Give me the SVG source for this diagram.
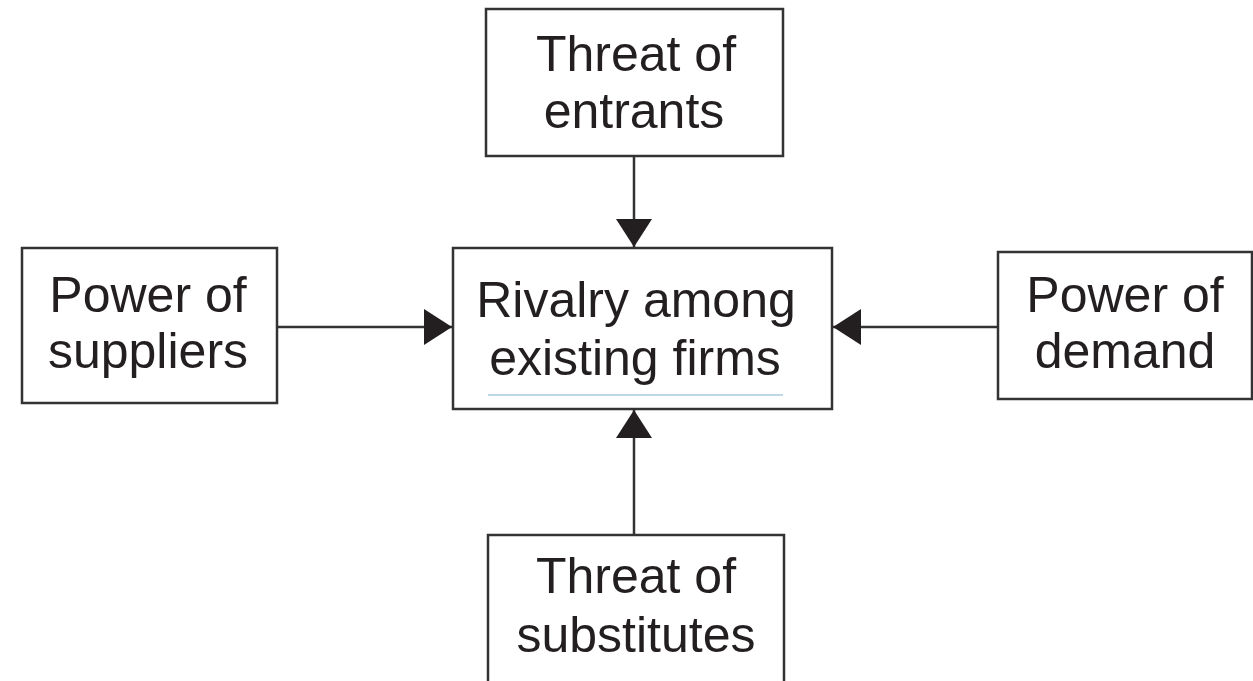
<svg xmlns="http://www.w3.org/2000/svg" width="1253" height="681" viewBox="0 0 1253 681">
<style>
.box{fill:#fff;stroke:#333;stroke-width:2.5}
.lbl{font-family:"Liberation Sans",Arial,sans-serif;font-size:50px;fill:#231f20;text-anchor:middle}
.con{stroke:#333;stroke-width:2.5;fill:none;marker-end:url(#ah)}
</style>
<defs>
<marker id="ah" markerUnits="userSpaceOnUse" markerWidth="36" markerHeight="36" viewBox="0 0 28 36" refX="28" refY="18" orient="auto">
<path d="M0,0 L28,18 L0,36 Z" fill="#231f20"/>
</marker>
</defs>
<rect width="1253" height="681" fill="#fff"/>
<g id="connectors">
<line class="con" x1="634" y1="156" x2="634" y2="247"/>
<line class="con" x1="277" y1="327" x2="452" y2="327"/>
<line class="con" x1="998" y1="327" x2="833" y2="327"/>
<line class="con" x1="634" y1="535" x2="634" y2="410"/>
</g>
<g id="rivalry">
<rect class="box" x="453" y="248" width="379" height="161"/>
<line x1="488" y1="395" x2="783" y2="395" stroke="#a9cbe2" stroke-width="1.5"/>
<text class="lbl" x="636" y="317">Rivalry among</text>
<text class="lbl" x="635" y="375">existing firms</text>
</g>
<g id="entrants">
<rect class="box" x="486" y="9" width="297" height="147"/>
<text class="lbl" x="636" y="71">Threat of</text>
<text class="lbl" x="634" y="128">entrants</text>
</g>
<g id="suppliers">
<rect class="box" x="22" y="248" width="255" height="155"/>
<text class="lbl" x="148" y="312">Power of</text>
<text class="lbl" x="148" y="368">suppliers</text>
</g>
<g id="demand">
<rect class="box" x="998" y="252" width="254" height="147"/>
<text class="lbl" x="1125" y="312">Power of</text>
<text class="lbl" x="1125" y="368">demand</text>
</g>
<g id="substitutes">
<rect class="box" x="488" y="535" width="296" height="160"/>
<text class="lbl" x="636" y="593">Threat of</text>
<text class="lbl" x="636" y="652">substitutes</text>
</g>
</svg>
